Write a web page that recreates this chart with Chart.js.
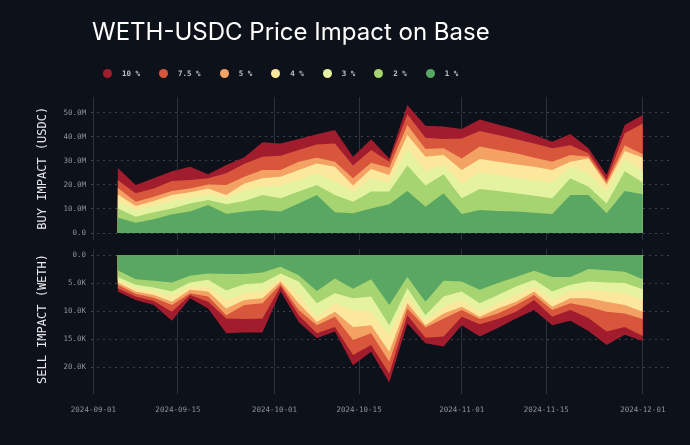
<!DOCTYPE html>
<html>
<head>
<meta charset="utf-8">
<script src="https://cdn.jsdelivr.net/npm/chart.js@4.4.1/dist/chart.umd.min.js"></script>
<style>
  html, body { margin: 0; padding: 0; background: #0d1119; }
  #wrap { position: relative; width: 690px; height: 445px; overflow: hidden; background: #0d1119; }
  #title { position: absolute; left: 92px; top: 20px; font: 400 24px/24px Inter, sans-serif; color: #ffffff; white-space: nowrap; }
  #legend { position: absolute; left: 103px; top: 68px; height: 10px; display: flex; align-items: center;
            font: bold 7.5px "DejaVu Sans Mono", monospace; color: #bfc3c9; }
  .item { display: flex; align-items: center; margin-right: 19px; }
  .dot { width: 9px; height: 9px; border-radius: 50%; margin-right: 10px; }
  #buy { position: absolute; left: 0; top: 0; }
  #sell { position: absolute; left: 0; top: 245px; }
</style>
</head>
<body>
<div id="wrap">
  <canvas id="buy" width="690" height="245"></canvas>
  <canvas id="sell" width="690" height="200"></canvas>
  <div id="title">WETH-USDC Price Impact on Base</div>
  <div id="legend"></div>
</div>
<script>
// dates of the samples (every 3 days)
const dates = ['2024-09-05', '2024-09-08', '2024-09-11', '2024-09-14', '2024-09-17', '2024-09-20',
  '2024-09-23', '2024-09-26', '2024-09-29', '2024-10-02', '2024-10-05', '2024-10-08',
  '2024-10-11', '2024-10-14', '2024-10-17', '2024-10-20', '2024-10-23', '2024-10-26',
  '2024-10-29', '2024-11-01', '2024-11-04', '2024-11-07', '2024-11-10', '2024-11-13',
  '2024-11-16', '2024-11-19', '2024-11-22', '2024-11-25', '2024-11-28', '2024-12-01'];

const levels = ['1 %', '2 %', '3 %', '4 %', '5 %', '7.5 %', '10 %'];
const colors = ['#5aa763', '#a6d471', '#e5f2a0', '#fce89d', '#f3a264', '#d8573c', '#a11c2d'];

// buy side depth, millions of USDC
const buy1 = [6.4, 4.3, 5.7, 7.8, 8.9, 11.6, 8.0, 8.9, 9.6, 8.9, 12.3, 15.8, 8.6, 8.2, 10.2, 11.9, 17.4, 10.9, 16.5, 7.9, 9.6, 9.1, 8.9, 8.4, 7.9, 15.8, 15.8, 8.2, 17.4, 16.1];
const buy2 = [10.3, 6.8, 8.6, 10.2, 12.3, 13.7, 11.9, 13.3, 15.8, 14.4, 17.2, 19.9, 15.8, 13.0, 17.2, 17.2, 28.0, 19.7, 24.4, 14.4, 18.3, 17.4, 16.5, 15.5, 14.4, 22.7, 19.2, 12.3, 25.7, 21.0];
const buy3 = [13.3, 9.6, 11.4, 13.3, 14.7, 16.1, 14.4, 17.9, 19.2, 19.7, 22.0, 24.8, 21.6, 17.2, 22.7, 21.0, 35.2, 25.5, 28.2, 20.6, 25.2, 24.1, 23.0, 22.0, 21.0, 27.5, 24.8, 17.2, 31.0, 25.7];
const buy4 = [16.1, 11.2, 13.3, 15.8, 16.9, 18.5, 15.8, 20.6, 22.7, 23.4, 26.2, 28.9, 27.5, 19.7, 26.6, 24.1, 40.7, 31.7, 32.4, 26.2, 30.7, 29.6, 28.5, 27.5, 26.2, 29.6, 31.0, 19.9, 34.1, 31.3];
const buy5 = [18.8, 13.0, 15.1, 17.4, 18.5, 20.2, 19.9, 23.4, 26.2, 26.2, 29.6, 31.3, 29.6, 22.7, 29.2, 27.1, 44.9, 34.9, 35.2, 31.0, 35.9, 34.5, 33.1, 31.3, 29.6, 32.4, 31.7, 21.0, 36.3, 32.7];
const buy75 = [22.0, 16.5, 18.5, 21.6, 22.0, 22.7, 24.8, 28.8, 31.7, 32.1, 34.5, 36.8, 37.2, 28.0, 34.5, 29.6, 49.3, 39.6, 39.0, 39.3, 42.4, 40.7, 38.9, 37.2, 35.2, 36.5, 33.1, 22.0, 41.4, 45.5];
const buy10 = [27.1, 19.9, 22.7, 25.7, 27.5, 24.4, 28.2, 31.5, 37.7, 37.2, 39.0, 41.0, 42.8, 31.7, 38.9, 31.0, 53.2, 44.6, 44.2, 43.2, 47.2, 45.1, 43.1, 40.7, 37.9, 41.1, 35.2, 24.1, 44.9, 49.0];

// sell side depth, thousands of WETH
const sell1 = [2.7, 4.3, 4.6, 4.9, 3.7, 3.3, 3.4, 3.4, 3.1, 2.1, 3.6, 6.4, 4.2, 6.0, 4.3, 8.9, 3.9, 8.3, 4.6, 4.7, 6.2, 5.0, 3.9, 2.8, 3.9, 3.9, 2.5, 2.7, 3.0, 4.3];
const sell2 = [3.9, 5.3, 5.8, 6.5, 4.9, 4.4, 6.3, 5.2, 5.0, 3.3, 4.7, 8.6, 6.8, 7.7, 7.4, 12.5, 5.9, 10.7, 7.4, 6.5, 8.6, 7.1, 5.6, 4.4, 6.5, 5.3, 4.7, 4.9, 5.0, 6.1];
const sell3 = [4.4, 5.9, 6.5, 7.4, 5.6, 5.6, 8.0, 6.8, 6.5, 4.2, 7.1, 11.0, 8.6, 9.8, 10.1, 14.2, 7.4, 11.7, 9.2, 8.0, 10.1, 8.6, 7.1, 5.6, 8.0, 6.5, 6.2, 6.5, 6.8, 8.0];
const sell4 = [4.9, 6.5, 7.1, 8.3, 6.2, 6.5, 9.5, 8.0, 7.7, 4.7, 8.6, 11.9, 10.1, 12.8, 12.5, 17.2, 8.6, 12.5, 10.4, 9.2, 11.0, 9.5, 8.3, 6.5, 9.2, 7.7, 7.7, 8.3, 8.9, 10.1];
const sell5 = [5.3, 6.9, 7.6, 8.9, 6.8, 7.4, 10.7, 8.9, 8.6, 5.2, 9.8, 12.5, 11.0, 15.1, 13.9, 19.0, 9.5, 12.9, 11.3, 9.8, 11.4, 10.4, 8.9, 7.1, 9.8, 8.6, 9.2, 10.1, 10.4, 11.4];
const sell75 = [5.9, 7.4, 8.2, 10.1, 7.1, 8.3, 11.3, 11.4, 11.3, 5.6, 10.7, 13.9, 12.8, 17.8, 16.0, 21.1, 10.7, 14.7, 14.5, 11.0, 12.3, 11.4, 10.1, 8.0, 11.0, 9.8, 11.2, 13.6, 12.8, 14.4];
const sell10 = [6.5, 8.0, 8.9, 11.7, 7.7, 9.5, 13.9, 13.8, 13.8, 6.5, 11.9, 14.8, 13.6, 19.6, 17.2, 22.7, 12.2, 15.7, 16.3, 12.5, 14.5, 13.0, 11.3, 9.8, 12.5, 11.7, 13.5, 16.0, 14.2, 15.3];

const xTicks = ['2024-09-01', '2024-09-15', '2024-10-01', '2024-10-15', '2024-11-01', '2024-11-15', '2024-12-01'];
const buyTicks = [0, 10, 20, 30, 40, 50];
const sellTicks = [0, 5, 10, 15, 20];

// days since 2024-09-01
const day0 = Date.UTC(2024, 8, 1);
function toDay(s) {
  const p = s.split('-');
  return (Date.UTC(+p[0], +p[1] - 1, +p[2]) - day0) / 86400000;
}
const days = dates.map(toDay);
const tickDays = xTicks.map(toDay);

const tickColor = '#8e939b';
const monoFont = '"DejaVu Sans Mono", monospace';

// keep the plot area exactly where the layout padding puts it
function noPad(s) {
  s.paddingTop = 0; s.paddingBottom = 0; s.paddingLeft = 0; s.paddingRight = 0;
}

function makeChart(el, series, o) {
  return new Chart(el, {
    type: 'line',
    data: {
      datasets: series.map((vals, i) => ({
        label: levels[i],
        data: vals.map((v, j) => ({ x: days[j], y: v })),
        backgroundColor: colors[i],
        borderColor: colors[i],
        borderWidth: 0,
        pointRadius: 0,
        fill: 'origin',
        tension: 0
      }))
    },
    options: {
      responsive: false,
      animation: false,
      layout: { padding: o.padding },
      plugins: { legend: { display: false }, tooltip: { enabled: false } },
      scales: {
        x: {
          type: 'linear',
          min: -0.4,
          max: 95.5,
          afterFit: s => { s.height = o.xHeight; noPad(s); },
          afterBuildTicks: s => { s.ticks = tickDays.map(v => ({ value: v })); },
          grid: { color: '#2c313b', lineWidth: 1, drawTicks: o.showX, tickLength: 5 },
          border: { display: false },
          ticks: {
            display: o.showX,
            color: tickColor,
            font: { family: monoFont, size: 7.5 },
            padding: 12,
            maxRotation: 0,
            callback: v => xTicks[tickDays.indexOf(v)]
          }
        },
        y: {
          min: o.min,
          max: o.max,
          reverse: o.reverse,
          afterFit: s => { s.width = 91; noPad(s); },
          afterBuildTicks: s => { s.ticks = o.ticks.map(v => ({ value: v })); },
          grid: { color: '#3d424d', lineWidth: 1, drawTicks: false },
          border: { display: false, dash: [2, 4] },
          ticks: {
            color: tickColor,
            font: { family: monoFont, size: 7.5 },
            padding: 5,
            callback: v => v === 0 ? '0.0' : v.toFixed(1) + o.unit
          },
          title: {
            display: true,
            text: o.title,
            color: '#e8e8ea',
            font: { family: monoFont, size: 12 },
            padding: { top: 36, bottom: 0 }
          }
        }
      }
    }
  });
}

const buyChart = makeChart(document.getElementById('buy'),
  [buy1, buy2, buy3, buy4, buy5, buy75, buy10], {
    padding: { top: 97, bottom: 5.5, left: 0, right: 20 },
    xHeight: 0, showX: false, min: -2.7, max: 56.5, reverse: false,
    ticks: buyTicks, unit: 'M', title: 'BUY IMPACT (USDC)'
  });

makeChart(document.getElementById('sell'),
  [sell1, sell2, sell3, sell4, sell5, sell75, sell10], {
    padding: { top: 4, bottom: 0, left: 0, right: 20 },
    xHeight: 56, showX: true, min: -1.07, max: 23.84, reverse: true,
    ticks: sellTicks, unit: 'K', title: 'SELL IMPACT (WETH)'
  });

// legend built from the buy chart datasets, largest impact first
const legend = document.getElementById('legend');
buyChart.data.datasets.slice().reverse().forEach(ds => {
  const item = document.createElement('div');
  item.className = 'item';
  const dot = document.createElement('span');
  dot.className = 'dot';
  dot.style.background = ds.backgroundColor;
  const txt = document.createElement('span');
  txt.textContent = ds.label;
  item.appendChild(dot);
  item.appendChild(txt);
  legend.appendChild(item);
});
</script>
</body>
</html>
